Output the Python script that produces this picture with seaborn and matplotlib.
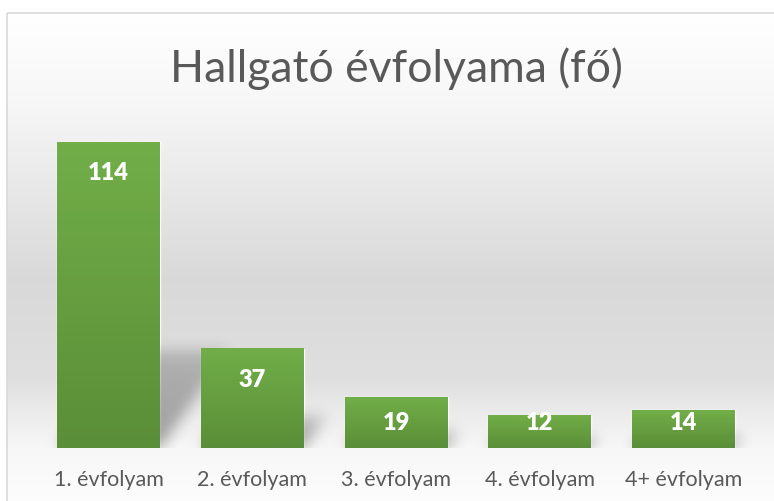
import numpy as np
import pandas as pd
import seaborn as sns
import matplotlib.pyplot as plt
from matplotlib.patches import Rectangle

categories = ["1. évfolyam", "2. évfolyam", "3. évfolyam", "4. évfolyam", "4+ évfolyam"]
values = [114, 37, 19, 12, 14]
title = "Hallgató évfolyama (fő)"

df = pd.DataFrame({"evfolyam": categories, "fo": values})

sns.set_theme(style="white")
plt.rcParams['font.family'] = ['Lato', 'DejaVu Sans']

W, H = 774, 502
fig = plt.figure(figsize=(W / 100, H / 100), dpi=100)

# hatter: fuggoleges szurke atmenet + keret
bg = fig.add_axes([0, 0, 1, 1], zorder=-2)
bg.set_xlim(0, W)
bg.set_ylim(H, 0)
bg.axis('off')
stops_y = [14, 100, 280, 380, 450, 502]
stops_v = [1.0, 0.97, 0.85, 0.875, 0.97, 0.99]
yy = np.arange(14, H + 1)
g = np.interp(yy, stops_y, stops_v)[:, None]
bg.imshow(np.stack([g, g, g], axis=-1), extent=(7, W, H, 14), aspect='auto', interpolation='bilinear')
bg.add_patch(Rectangle((7, 14), 900, 600, fill=False, ec='#d9d9d9', lw=1.2))

# diagram
ax = fig.add_axes([36.6 / W, 53 / H, 719 / W, 322 / H])
ax.patch.set_alpha(0)
sns.barplot(data=df, x="evfolyam", y="fo", color="#70ad47", saturation=1, width=0.715, ax=ax)
ax.set_xlim(-0.5, 4.5)
ax.set_ylim(0, 120)

# oszlopok: szinatmenet
top_c = np.array([0x71, 0xae, 0x48]) / 255
bot_c = np.array([0x5b, 0x8e, 0x38]) / 255
t = np.linspace(0, 1, 100)[:, None]
bar_grad = (top_c * (1 - t) + bot_c * t)[:, None, :]

nx, ny = 719, 322
xs = np.linspace(-0.5, 4.5, nx)
ys = np.linspace(0, 120, ny)
X, Y = np.meshgrid(xs, ys)
px_x = nx / 5
px_y = ny / 120
mask = np.zeros_like(X)

for p, v in zip(ax.patches, values):
    x0, w, h = p.get_x(), p.get_width(), p.get_height()
    ax.imshow(bar_grad, extent=(x0, x0 + w, 0, h), aspect='auto', zorder=3, interpolation='bilinear')
    ax.text(x0 + w / 2, max(h - 11.2, 9.7), str(v), ha='center', va='center',
            color='white', fontweight='heavy', fontsize=17, zorder=5)
    # perspektivikus arnyek
    hs = 0.32 * h
    shift = 0.7 * (Y * px_y) / px_x
    inside = (Y <= hs) & (X >= x0 + shift) & (X <= x0 + w + shift)
    fade = np.clip(1 - 0.5 * Y / max(hs, 1e-6), 0, 1)
    mask = np.maximum(mask, inside * fade)

sig = 7
kx = np.arange(-3 * sig, 3 * sig + 1)
kern = np.exp(-kx ** 2 / (2 * sig ** 2))
kern /= kern.sum()
mask = np.apply_along_axis(lambda r: np.convolve(r, kern, mode='same'), 1, mask)
mask = np.apply_along_axis(lambda c: np.convolve(c, kern, mode='same'), 0, mask)
shadow = np.zeros((ny, nx, 4))
shadow[..., 3] = mask * 0.36
ax.imshow(shadow, extent=(-0.5, 4.5, 0, 120), origin='lower', aspect='auto', zorder=1)

ax.set_xlim(-0.5, 4.5)
ax.set_ylim(0, 120)
ax.set_xlabel('')
ax.set_ylabel('')
ax.set_yticks([])
sns.despine(ax=ax, left=True, bottom=True)
ax.tick_params(axis='x', length=0, labelsize=15.5, colors='#595959', pad=15)

fig.text(396 / W, 1 - 82 / H, title, ha='center', va='baseline', fontsize=32, color='#595959')

fig.savefig('out.png', dpi=100)
